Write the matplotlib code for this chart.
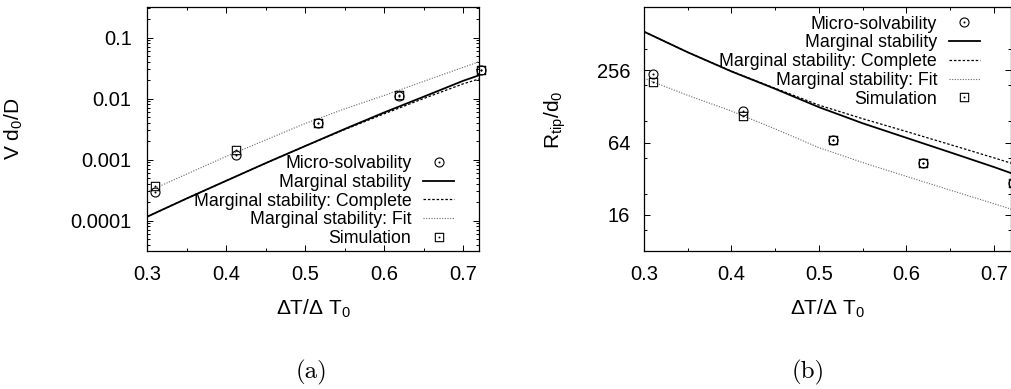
import matplotlib
matplotlib.use("Agg")
import matplotlib.pyplot as plt
from matplotlib.path import Path
from matplotlib.lines import Line2D

plt.rcParams["font.family"] = ["Liberation Sans", "DejaVu Sans"]
plt.rcParams["mathtext.fontset"] = "custom"
plt.rcParams["mathtext.rm"] = "Liberation Sans"
plt.rcParams["mathtext.it"] = "Liberation Sans:italic"

# =========================
# DATA
# =========================

sim_x = [0.31, 0.413, 0.516, 0.619, 0.722]
curve_x = [0.30, 0.35, 0.40, 0.45, 0.50, 0.55, 0.60, 0.65, 0.70, 0.72]

# (a) tip velocity V d0/D
vel_micro = [2.9e-4, 1.2e-3, 3.9e-3, 0.0110, 0.029]
vel_sim = [3.7e-4, 1.45e-3, 4.0e-3, 0.0112, 0.029]
vel_marginal = [1.15e-4, 2.29e-4, 4.47e-4, 8.7e-4, 1.66e-3, 3.16e-3, 5.9e-3, 0.0107, 0.0195, 0.024]
vel_complete = [1.15e-4, 2.29e-4, 4.47e-4, 8.7e-4, 1.66e-3, 3.09e-3, 5.6e-3, 0.0100, 0.0174, 0.0209]
vel_fit = [2.95e-4, 5.75e-4, 1.12e-3, 2.09e-3, 3.89e-3, 6.76e-3, 0.0112, 0.0191, 0.0324, 0.040]

# (b) tip radius R_tip/d0
rad_micro = [238, 117, 67, 43, 29.3]
rad_sim = [204, 106, 67, 43, 29.3]
rad_marginal = [536, 361, 250, 179, 126, 92.5, 70, 53, 40, 35.5]
rad_complete = [536, 361, 251, 181, 131, 101, 79, 61.5, 47.7, 43]
rad_fit = [219, 158, 117, 83, 58, 43.6, 33.4, 25.7, 19.8, 17.8]

x_ticks = [0.3, 0.4, 0.5, 0.6, 0.7]
x_minor = [0.35, 0.45, 0.55, 0.65]
vel_ticks = [1e-4, 1e-3, 1e-2, 1e-1]
vel_labels = ["0.0001", "0.001", "0.01", "0.1"]
rad_ticks = [16, 64, 256]
rad_minor = [12, 24, 48, 96, 192, 384]

labels = ["Micro-solvability", "Marginal stability", "Marginal stability: Complete",
          "Marginal stability: Fit", "Simulation"]

# =========================
# STYLE HELPERS
# =========================

def dot_marker(shape):
    if shape == "circle":
        outer = Path.unit_circle()
    else:
        outer = Path([(-1, -1), (1, -1), (1, 1), (-1, 1), (-1, -1)],
                     [Path.MOVETO, Path.LINETO, Path.LINETO, Path.LINETO, Path.CLOSEPOLY])
    dot = Path.circle(center=(0, 0), radius=0.1)
    return Path.make_compound_path(outer, dot)

CIRC = dot_marker("circle")
SQR = dot_marker("square")

solid_kw = dict(color="black", lw=1.3, ls="-")
dash_kw = dict(color="black", lw=0.9, ls=(0, (2.0, 1.5)))
fit_kw = dict(color="#666666", lw=0.8, ls=(0, (1.0, 1.4)))
circ_kw = dict(ls="none", marker=CIRC, ms=6.5, mfc="none", mec="black", mew=0.8)
sqr_kw = dict(ls="none", marker=SQR, ms=6.0, mfc="none", mec="black", mew=0.8)


def style_axes(ax):
    for s in ax.spines.values():
        s.set_linewidth(0.9)
    ax.tick_params(which="both", direction="in", top=True, right=True,
                   labelsize=14.5, pad=10, width=0.7)
    ax.tick_params(which="major", length=4)
    ax.tick_params(which="minor", length=2)
    ax.set_xlim(0.3, 0.72)
    ax.set_xticks(x_ticks)
    ax.set_xticklabels([f"{v:.1f}" for v in x_ticks])
    ax.set_xticks(x_minor, minor=True)


def add_legend(ax, **kw):
    handles = [Line2D([], [], **circ_kw), Line2D([], [], **solid_kw),
               Line2D([], [], **dash_kw), Line2D([], [], **fit_kw),
               Line2D([], [], **sqr_kw)]
    ax.legend(handles, labels, frameon=False, markerfirst=False, fontsize=12.8,
              handlelength=1.75, handletextpad=0.65, labelspacing=0.1,
              borderpad=0, borderaxespad=0, **kw)

# =========================
# FIGURE
# =========================

fig = plt.figure(figsize=(10.12, 3.89), dpi=100)
ax1 = fig.add_axes([147 / 1012, 138 / 389, 332 / 1012, 244 / 389])
ax2 = fig.add_axes([644 / 1012, 138 / 389, 367.5 / 1012, 244 / 389])

# (a)
ax1.plot(curve_x, vel_marginal, **solid_kw)
ax1.plot(curve_x, vel_complete, **dash_kw)
ax1.plot(curve_x, vel_fit, **fit_kw)
ax1.plot(sim_x, vel_micro, clip_on=False, **circ_kw)
ax1.plot(sim_x, vel_sim, clip_on=False, **sqr_kw)
ax1.set_yscale("log")
ax1.set_ylim(10 ** -4.5, 10 ** -0.5)
style_axes(ax1)
ax1.set_yticks(vel_ticks)
ax1.set_yticklabels(vel_labels)
ax1.tick_params(axis="y", pad=11)
ax1.set_ylabel(r"V d$\mathregular{_0}$/D", fontsize=15)
ax1.yaxis.set_label_coords(-0.367, 0.5)
ax1.set_xlabel(r"$\mathregular{\Delta T/\Delta\ T_0}$", fontsize=15)
ax1.xaxis.set_label_coords(0.5, -0.19)
add_legend(ax1, loc="lower right", bbox_to_anchor=(0.925, 0.016))

# (b)
ax2.plot(curve_x, rad_marginal, **solid_kw)
ax2.plot(curve_x, rad_complete, **dash_kw)
ax2.plot(curve_x, rad_fit, **fit_kw)
ax2.plot(sim_x, rad_micro, **circ_kw)
ax2.plot(sim_x, rad_sim, **sqr_kw)
ax2.set_yscale("log", base=2)
ax2.set_ylim(8, 860)
style_axes(ax2)
ax2.set_yticks(rad_ticks)
ax2.set_yticklabels([str(v) for v in rad_ticks])
ax2.set_yticks(rad_minor, minor=True)
ax2.set_yticklabels([], minor=True)
ax2.set_ylabel(r"R$\mathregular{_{tip}}$/d$\mathregular{_0}$", fontsize=15)
ax2.yaxis.set_label_coords(-0.207, 0.537)
ax2.set_xlabel(r"$\mathregular{\Delta T/\Delta\ T_0}$", fontsize=15)
ax2.xaxis.set_label_coords(0.5, -0.19)
add_legend(ax2, loc="upper right", bbox_to_anchor=(0.914, 0.965))

fig.text(312 / 1012, 1 - 372 / 389, "(a)", family="cmr10", fontsize=18, ha="center", va="center")
fig.text(808 / 1012, 1 - 372 / 389, "(b)", family="cmr10", fontsize=18, ha="center", va="center")

fig.savefig("out.png", dpi=100)
